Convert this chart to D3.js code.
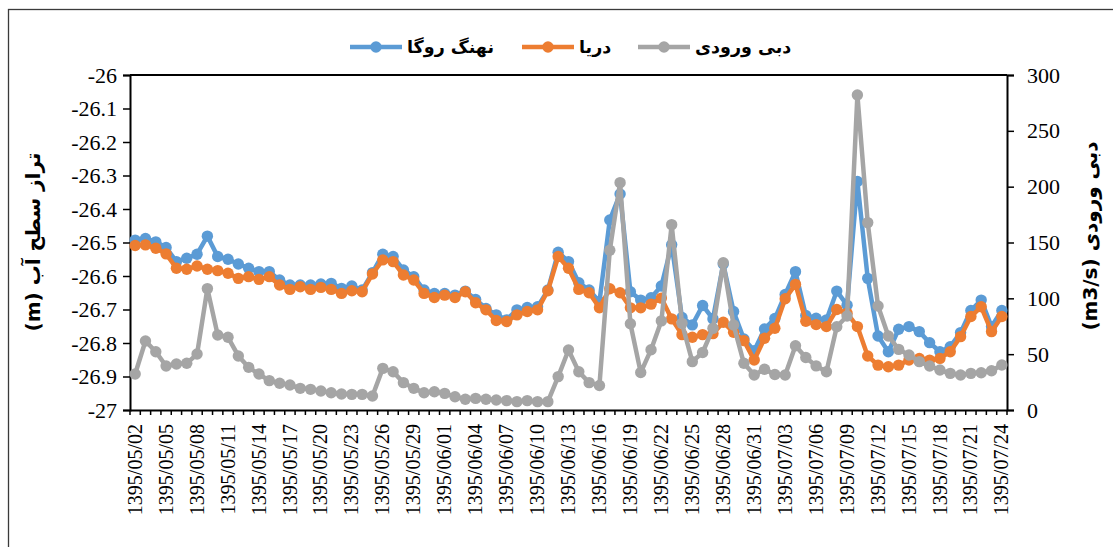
<!DOCTYPE html>
<html>
<head>
<meta charset="utf-8">
<script src="https://cdn.jsdelivr.net/npm/d3@7"></script>
<style>
  body { margin: 0; background: #fff; }
  svg { display: block; }
  .serif text { font-family: "Liberation Serif", "Times New Roman", Tinos, "DejaVu Serif", "Noto Serif", serif; }
</style>
</head>
<body>
<div id="chart"></div>
<script>
// month spans of the record (1395, Persian calendar)
let monthSpans = [["05", 2, 31], ["06", 1, 31], ["07", 1, 24]];
let dates = [];
monthSpans.forEach(function(m) {
    for (let d = m[1]; d <= m[2]; d++) {
        dates.push("1395/" + m[0] + "/" + (d < 10 ? "0" + d : d));
    }
});

// water level, m (left axis)
let levelRooga = [
    -26.493, -26.488, -26.498, -26.515, -26.557, -26.547, -26.535, -26.481, -26.542, -26.550,
    -26.564, -26.577, -26.587, -26.587, -26.612, -26.627, -26.627, -26.627, -26.624, -26.622,
    -26.637, -26.630, -26.642, -26.590, -26.535, -26.542, -26.582, -26.602, -26.642, -26.652,
    -26.652, -26.657, -26.645, -26.670, -26.697, -26.716, -26.731, -26.701, -26.694, -26.692,
    -26.642, -26.529, -26.557, -26.620, -26.642, -26.677, -26.433, -26.355, -26.647, -26.672,
    -26.665, -26.630, -26.507, -26.724, -26.746, -26.688, -26.728, -26.564, -26.706, -26.788,
    -26.823, -26.758, -26.727, -26.655, -26.587, -26.718, -26.726, -26.731, -26.645, -26.687,
    -26.318, -26.607, -26.779, -26.826, -26.759, -26.751, -26.766, -26.799, -26.826, -26.811,
    -26.769, -26.703, -26.672, -26.751, -26.703
];
let levelSea = [
    -26.509, -26.507, -26.517, -26.534, -26.577, -26.580, -26.570, -26.580, -26.584, -26.592,
    -26.607, -26.602, -26.610, -26.602, -26.627, -26.640, -26.632, -26.640, -26.634, -26.640,
    -26.652, -26.644, -26.647, -26.594, -26.552, -26.557, -26.597, -26.612, -26.652, -26.664,
    -26.657, -26.664, -26.647, -26.680, -26.701, -26.733, -26.736, -26.716, -26.706, -26.701,
    -26.644, -26.542, -26.577, -26.640, -26.650, -26.695, -26.638, -26.650, -26.695, -26.695,
    -26.684, -26.666, -26.728, -26.775, -26.783, -26.775, -26.772, -26.738, -26.768, -26.793,
    -26.851, -26.786, -26.756, -26.668, -26.625, -26.735, -26.745, -26.751, -26.700, -26.711,
    -26.751, -26.839, -26.866, -26.871, -26.866, -26.851, -26.846, -26.851, -26.846, -26.826,
    -26.781, -26.721, -26.692, -26.766, -26.721
];
// inflow, m3/s (right axis)
let inflow = [
    32.2, 61.8, 52.2, 39.4, 41.2, 41.8, 50.1, 108.7, 67.2, 65.1,
    48.4, 38.2, 32.2, 26.3, 23.9, 22.4, 19.4, 18.5, 17.0, 15.5,
    14.3, 14.0, 14.0, 12.5, 37.3, 34.3, 24.5, 19.4, 15.5, 16.4,
    14.9, 11.9, 9.6, 10.4, 9.6, 9.0, 8.4, 7.5, 8.4, 7.5,
    7.5, 29.9, 53.7, 34.3, 24.5, 22.0, 143.0, 203.6, 77.3, 33.5,
    54.0, 79.8, 166.0, 77.6, 43.3, 51.5, 73.1, 131.9, 76.1, 41.8,
    31.3, 36.5, 31.8, 31.3, 57.5, 47.0, 39.5, 34.3, 74.6, 84.2,
    282.1, 167.8, 93.1, 66.3, 54.3, 49.3, 43.3, 39.4, 35.8, 32.8,
    31.3, 32.8, 33.4, 35.2, 40.3
];

let leftTicks = [-27, -26.9, -26.8, -26.7, -26.6, -26.5, -26.4, -26.3, -26.2, -26.1, -26];
let rightTicks = [0, 50, 100, 150, 200, 250, 300];

let seriesNames = ["نهنگ روگا", "دریا", "دبی ورودی"];
let seriesColors = ["#5B9BD5", "#ED7D31", "#A5A5A5"];

let W = 1113, H = 547;
let margin = {top: 75, right: 106, bottom: 137, left: 130};
let w = W - margin.left - margin.right;
let h = H - margin.top - margin.bottom;
let faFont = "DejaVu Sans, sans-serif";

let svg = d3.select("#chart").append("svg")
    .attr("width", W)
    .attr("height", H);

// outer chart frame
svg.append("rect")
    .attr("x", 8.5).attr("y", 9.5)
    .attr("width", 1200).attr("height", 700)
    .attr("fill", "none")
    .attr("stroke", "#3a3a3a")
    .attr("stroke-width", 1.3);

let g = svg.append("g")
    .attr("transform", "translate(" + margin.left + "," + margin.top + ")");

let x = d3.scaleBand().domain(dates).range([0, w]).padding(0);
let yL = d3.scaleLinear().domain([-27, -26]).range([h, 0]);
let yR = d3.scaleLinear().domain([0, 300]).range([h, 0]);
let cx = function(d, i) { return x(dates[i]) + x.bandwidth() / 2; };

// top border of plot area
g.append("line")
    .attr("x1", 0).attr("x2", w)
    .attr("y1", 0).attr("y2", 0)
    .attr("stroke", "#000").attr("stroke-width", 2);

// left axis
let axL = g.append("g")
    .call(d3.axisLeft(yL).tickValues(leftTicks).tickSize(7).tickPadding(6)
        .tickFormat(function(d) { return (+d.toFixed(1)).toString(); }));
// right axis
let axR = g.append("g")
    .attr("transform", "translate(" + w + ",0)")
    .call(d3.axisRight(yR).tickValues(rightTicks).tickSize(7).tickPadding(13));
[axL, axR].forEach(function(a) {
    a.attr("class", "serif").attr("font-size", 22);
    a.select(".domain").attr("stroke", "#000").attr("stroke-width", 2);
    a.selectAll(".tick line").attr("stroke", "#000").attr("stroke-width", 1.5);
    a.selectAll("text").attr("fill", "#000");
});

// bottom axis: labels every third day
let axB = g.append("g")
    .attr("transform", "translate(0," + h + ")")
    .call(d3.axisBottom(x).tickValues(dates.filter(function(d, i) { return i % 3 == 0; }))
        .tickSize(0).tickPadding(0));
axB.attr("class", "serif").attr("font-size", 20);
axB.select(".domain").attr("stroke", "#000").attr("stroke-width", 2);
axB.selectAll("text")
    .attr("fill", "#000")
    .attr("text-anchor", "end")
    .attr("dy", "0.33em")
    .attr("transform", "translate(0,14) rotate(-90)");

// category boundary ticks
let bounds = dates.map(function(d) { return x(d); }).concat([x.range()[1]]);
g.append("g").selectAll("line")
    .data(bounds)
    .enter().append("line")
    .attr("x1", function(d) { return d; })
    .attr("x2", function(d) { return d; })
    .attr("y1", h).attr("y2", h + 5)
    .attr("stroke", "#000").attr("stroke-width", 1.5);

// series
let series = [
    {vals: levelRooga, y: yL, color: seriesColors[0]},
    {vals: levelSea, y: yL, color: seriesColors[1]},
    {vals: inflow, y: yR, color: seriesColors[2]}
];
series.forEach(function(s) {
    let line = d3.line()
        .x(function(d, i) { return cx(d, i); })
        .y(function(d) { return s.y(d); });
    g.append("path")
        .datum(s.vals)
        .attr("d", line)
        .attr("fill", "none")
        .attr("stroke", s.color)
        .attr("stroke-width", 4.5)
        .attr("stroke-linejoin", "round");
    g.append("g").selectAll("circle")
        .data(s.vals)
        .enter().append("circle")
        .attr("cx", cx)
        .attr("cy", function(d) { return s.y(d); })
        .attr("r", 5.7)
        .attr("fill", s.color);
});

// legend
let legendX = [350, 522, 638];
let legend = svg.selectAll("g.legend")
    .data(seriesNames)
    .enter().append("g")
    .attr("class", "legend")
    .attr("transform", function(d, i) { return "translate(" + legendX[i] + ",47)"; });
legend.append("line")
    .attr("x1", 0).attr("x2", 52)
    .attr("stroke", function(d, i) { return seriesColors[i]; })
    .attr("stroke-width", 4.5);
legend.append("circle")
    .attr("cx", 26).attr("r", 5.7)
    .attr("fill", function(d, i) { return seriesColors[i]; });
legend.append("text")
    .attr("x", 57)
    .attr("dy", "0.35em")
    .attr("direction", "rtl")
    .attr("text-anchor", "end")
    .attr("font-family", faFont)
    .attr("font-weight", "bold")
    .attr("font-size", 17.5)
    .text(function(d) { return d; });

// axis titles
svg.append("text")
    .attr("transform", "translate(33,242) rotate(-90)")
    .attr("text-anchor", "middle")
    .attr("dy", "0.35em")
    .attr("direction", "rtl")
    .attr("font-family", faFont)
    .attr("font-weight", "bold")
    .attr("font-size", 20)
    .text("تراز سطح آب (m)");
svg.append("text")
    .attr("transform", "translate(1090,236) rotate(-90)")
    .attr("text-anchor", "middle")
    .attr("dy", "0.35em")
    .attr("direction", "rtl")
    .attr("font-family", faFont)
    .attr("font-weight", "bold")
    .attr("font-size", 20)
    .text("دبی ورودی (m3/s)");
</script>
</body>
</html>
